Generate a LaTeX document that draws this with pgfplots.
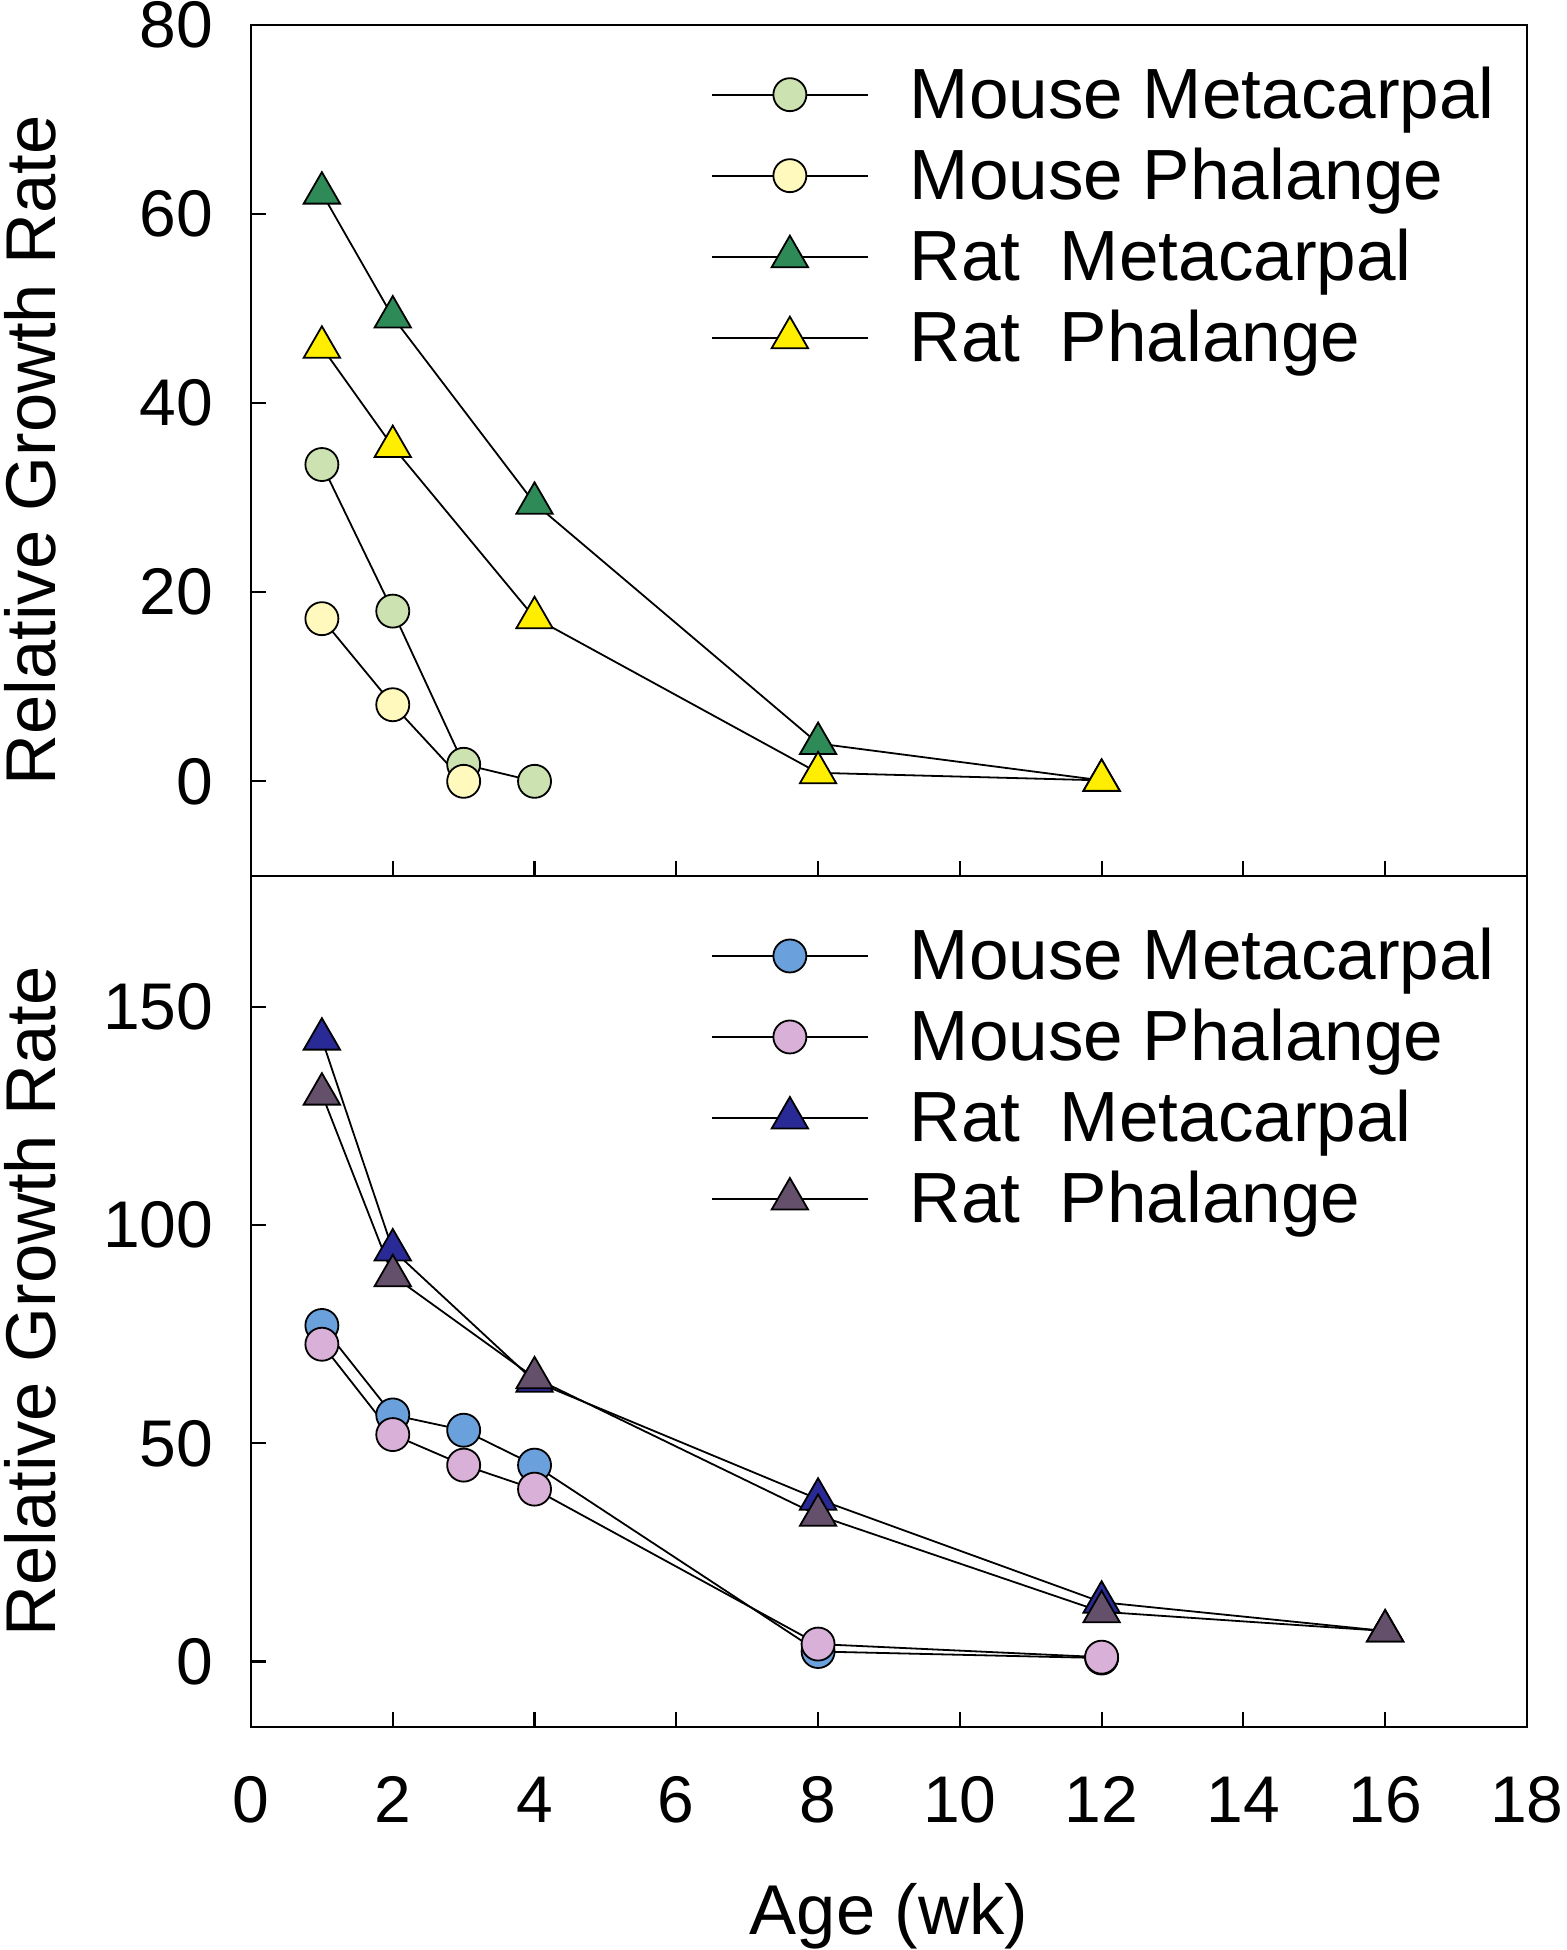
\documentclass[border=0pt]{standalone}
\usepackage{fontspec}
\setmainfont{Liberation Sans}
\usepackage{pgfplots}
\pgfplotsset{compat=1.18}

\definecolor{mmcA}{RGB}{204,226,176}
\definecolor{mphA}{RGB}{255,249,190}
\definecolor{rmcA}{RGB}{46,139,87}
\definecolor{rphA}{RGB}{255,238,0}
\definecolor{mmcB}{RGB}{106,160,220}
\definecolor{mphB}{RGB}{216,176,216}
\definecolor{rmcB}{RGB}{42,42,150}
\definecolor{rphB}{RGB}{100,80,106}

\pgfplotsset{
  panel/.style={
    scale only axis, width=425.3pt, height=283.7pt,
    xmin=0, xmax=18, xtick={0,2,...,18},
    xtick pos=bottom, ytick pos=left,
    tick align=inside, major tick length=5pt,
    axis line style={line width=0.8pt},
    tick style={line width=0.7pt, black},
    /pgf/number format/assume math mode=true,
    tick label style={font=\fontsize{22}{26}\selectfont},
    yticklabel style={xshift=-9pt},
    xticklabel style={yshift=-13pt},
    label style={font=\fontsize{23.5}{28}\selectfont},
    ylabel={Relative Growth Rate},
    ylabel style={at={(axis description cs:-0.173,0.5)}, anchor=center},
    legend cell align=left,
    legend image code/.code={\draw[#1, mark repeat=2, mark phase=2]
      plot coordinates {(0pt,0pt) (26pt,0pt) (52pt,0pt)};},
    legend style={draw=none, fill=none, inner sep=0pt, outer sep=0pt,
      row sep=0pt, font=\fontsize{23.7}{28}\selectfont,
      nodes={inner sep=0pt, text height=21.5pt, text depth=5.5pt},
      /tikz/every odd column/.append style={column sep=13.7pt}},
  },
  circ/.style={line width=0.6pt, black, mark=*, mark size=5.5pt,
    mark options={fill=#1, draw=black, line width=0.6pt}},
  tri/.style={line width=0.6pt, black, mark=triangle*, mark size=7pt,
    mark options={fill=#1, draw=black, line width=0.6pt}},
}

\begin{document}
\begin{tikzpicture}
\path[use as bounding box] (-83.67pt,-74.33pt) rectangle (438.33pt,575.67pt);
% top panel
\begin{axis}[panel, at={(0pt,283.7pt)}, anchor=south west,
  ymin=-10, ymax=80, ytick={0,20,...,80}, xticklabels={},
  legend style={at={(rel axis cs:0.3605,0.9655)}, anchor=north west}]
\addplot[circ=mmcA] coordinates {(1,33.5) (2,18) (3,1.8) (4,0)};
\addlegendentry{Mouse Metacarpal}
\addplot[circ=mphA] coordinates {(1,17.2) (2,8.1) (3,0)};
\addlegendentry{Mouse Phalange}
\addplot[tri=rmcA] coordinates {(1,62.2) (2,49.1) (4,29.4) (8,4.0) (12,0.1)};
\addlegendentry{Rat~~Metacarpal}
\addplot[tri=rphA] coordinates {(1,45.9) (2,35.4) (4,17.3) (8,0.9) (12,0.1)};
\addlegendentry{Rat~~Phalange}
\end{axis}
% bottom panel
\begin{axis}[panel, at={(0pt,0pt)}, anchor=south west,
  ymin=-15, ymax=180, ytick={0,50,100,150},
  xlabel={Age (wk)},
  xlabel style={at={(axis description cs:0.5,0)}, yshift=-63pt, anchor=center},
  legend style={at={(rel axis cs:0.3605,0.9535)}, anchor=north west}]
\addplot[circ=mmcB] coordinates {(1,77) (2,56.5) (3,53) (4,45) (8,2.3) (12,0.8)};
\addlegendentry{Mouse Metacarpal}
\addplot[circ=mphB] coordinates {(1,72.7) (2,52) (3,45) (4,39.5) (8,4) (12,1)};
\addlegendentry{Mouse Phalange}
\addplot[tri=rmcB] coordinates {(1,142.6) (2,94.3) (4,64.2) (8,37.2) (12,13.6) (16,7)};
\addlegendentry{Rat~~Metacarpal}
\addplot[tri=rphB] coordinates {(1,130) (2,88.4) (4,65) (8,33.5) (12,11.4) (16,7)};
\addlegendentry{Rat~~Phalange}
\end{axis}
\end{tikzpicture}
\end{document}
